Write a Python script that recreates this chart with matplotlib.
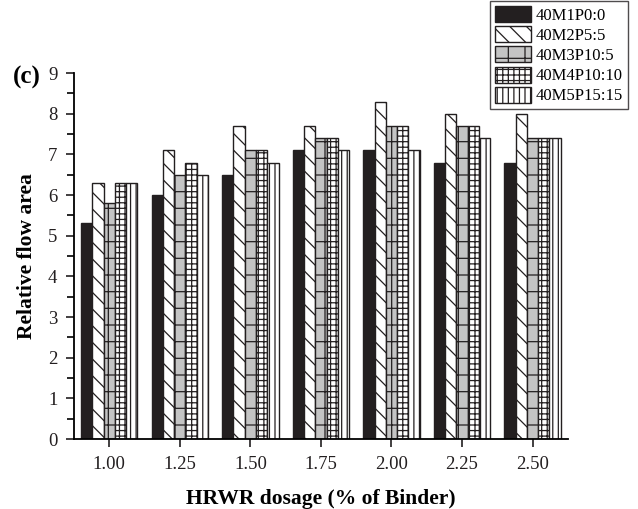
import numpy as np
import matplotlib
matplotlib.use('Agg')
import matplotlib.pyplot as plt
from matplotlib.ticker import MultipleLocator

plt.rcParams['font.family'] = ['Liberation Serif', 'DejaVu Serif']
plt.rcParams['hatch.linewidth'] = 0.9

dosage = ["1.00", "1.25", "1.50", "1.75", "2.00", "2.25", "2.50"]
series_names = ["40M1P0:0", "40M2P5:5", "40M3P10:5", "40M4P10:10", "40M5P15:15"]

m1 = [5.3, 6.0, 6.5, 7.1, 7.1, 6.8, 6.8]
m2 = [6.3, 7.1, 7.7, 7.7, 8.3, 8.0, 8.0]
m3 = [5.8, 6.5, 7.1, 7.4, 7.7, 7.7, 7.4]
m4 = [6.3, 6.8, 7.1, 7.4, 7.7, 7.7, 7.4]
m5 = [6.3, 6.5, 6.8, 7.1, 7.1, 7.4, 7.4]

# bar styles: facecolor, hatch
styles = [
    ('#231f20', None),
    ('white', '\\\\'),
    ('#c4c4c4', '+'),
    ('white', '+++'),
    ('white', '|||'),
]

fig = plt.figure(figsize=(6.38, 5.09), dpi=100)
ax = fig.add_axes([0.116, 0.1375, 0.774, 0.719])

x = np.arange(len(dosage))
bar_width = 0.16
data = [m1, m2, m3, m4, m5]
for i, (vals, (fc, hatch)) in enumerate(zip(data, styles)):
    ax.bar(x + (i - 2) * bar_width, vals, bar_width, color=fc, hatch=hatch,
           edgecolor='#231f20', linewidth=1.0, label=series_names[i])

ax.set_xlim(-0.5, 6.5)
ax.set_ylim(0, 9)
ax.set_xticks(x)
ax.set_xticklabels(dosage)
ax.yaxis.set_major_locator(MultipleLocator(1))
ax.yaxis.set_minor_locator(MultipleLocator(0.5))
ax.tick_params(axis='both', which='major', direction='out', length=6, width=1.2,
               labelsize=13.5, colors='#231f20', pad=6)
ax.tick_params(axis='y', which='minor', direction='out', length=5, width=1.2)
for s in ['top', 'right']:
    ax.spines[s].set_visible(False)
for s in ['left', 'bottom']:
    ax.spines[s].set_linewidth(1.3)

ax.set_xlabel('HRWR dosage (% of Binder)', fontsize=15.5, fontweight='bold', labelpad=12)
ax.set_ylabel('Relative flow area', fontsize=15.5, fontweight='bold', labelpad=8)

fig.text(0.02, 0.847, '(c)', fontsize=18, fontweight='bold', va='center')

leg = fig.legend(loc='upper right', bbox_to_anchor=(0.984, 0.998), fontsize=12,
                 frameon=True, fancybox=False, edgecolor='#231f20',
                 handlelength=2.2, handleheight=1.1, labelspacing=0.15,
                 handletextpad=0.25, borderpad=0.3, borderaxespad=0)
leg.get_frame().set_linewidth(1.0)

fig.savefig('out.png', dpi=100)
